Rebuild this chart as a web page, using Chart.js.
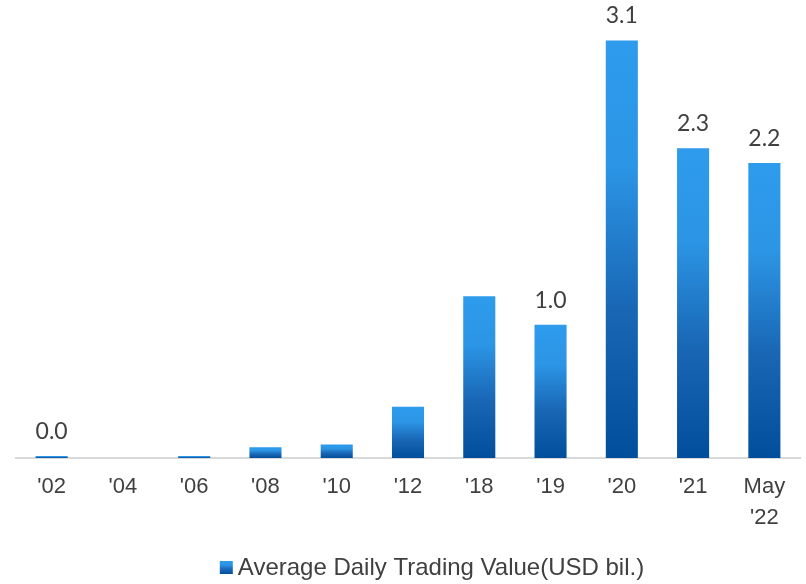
<!DOCTYPE html>
<html>
<head>
<meta charset="utf-8">
<script src="https://cdn.jsdelivr.net/npm/chart.js@4.4.0/dist/chart.umd.min.js"></script>
<style>
  html, body { margin: 0; padding: 0; background: #fff; }
  #wrap { width: 806px; height: 584px; }
</style>
</head>
<body>
<div id="wrap"><canvas id="tradingChart" width="806" height="584"></canvas></div>
<script>
// categories and values
const years = ["'02", "'04", "'06", "'08", "'10", "'12", "'18", "'19", "'20", "'21", ["May", "'22"]];
const tradingValue = [0.015, 0, 0.015, 0.08, 0.1, 0.38, 1.2, 0.99, 3.1, 2.3, 2.19];
// only some bars carry a value label
const valueLabels = ['0.0', null, null, null, null, null, null, '1.0', '3.1', '2.3', '2.2'];
const seriesName = 'Average Daily Trading Value(USD bil.)';

const TEXT = '#404040';

function barGradient(ctx, top, bottom) {
    const g = ctx.createLinearGradient(0, top, 0, bottom);
    g.addColorStop(0, '#2E9BEC');
    g.addColorStop(0.3, '#2C95E5');
    g.addColorStop(0.65, '#1866B4');
    g.addColorStop(1, '#004E9C');
    return g;
}

// draws the numbers above the bars
const valueLabelPlugin = {
    id: 'valueLabels',
    afterDatasetsDraw(chart) {
        const ctx = chart.ctx;
        const meta = chart.getDatasetMeta(0);
        ctx.save();
        ctx.font = '23px Lato';
        ctx.fillStyle = TEXT;
        ctx.textAlign = 'center';
        ctx.textBaseline = 'alphabetic';
        meta.data.forEach(function(bar, i) {
            if (valueLabels[i] !== null) {
                ctx.fillText(valueLabels[i], bar.x, bar.y - 17);
            }
        });
        ctx.restore();
    }
};

// legend drawn by hand so the box sits close to the text
const bottomLegend = {
    id: 'bottomLegend',
    afterDraw(chart) {
        const ctx = chart.ctx;
        const area = chart.chartArea;
        ctx.save();
        ctx.font = '24px "Liberation Sans"';
        const tw = ctx.measureText(seriesName).width;
        const box = 13, gap = 5;
        const groupW = box + gap + tw;
        const left = (area.left + area.right) / 2 + 24 - groupW / 2;
        const cy = chart.height - 17;
        ctx.fillStyle = barGradient(ctx, cy - 6, cy + 7);
        ctx.fillRect(left, cy - 6, box, box);
        ctx.fillStyle = TEXT;
        ctx.textBaseline = 'middle';
        ctx.textAlign = 'left';
        ctx.fillText(seriesName, left + box + gap, cy + 1);
        ctx.restore();
    }
};

const ctx = document.getElementById('tradingChart').getContext('2d');
new Chart(ctx, {
    type: 'bar',
    data: {
        labels: years,
        datasets: [{
            label: seriesName,
            data: tradingValue,
            backgroundColor: function(context) {
                const chart = context.chart;
                if (!chart.chartArea || context.parsed === undefined) return '#1F7AD0';
                const y = chart.scales.y;
                const top = y.getPixelForValue(context.parsed.y);
                const bottom = y.getPixelForValue(0);
                return barGradient(chart.ctx, Math.min(top, bottom - 1), bottom);
            },
            borderWidth: 0,
            categoryPercentage: 0.9,
            barPercentage: 0.5
        }]
    },
    options: {
        responsive: false,
        animation: false,
        layout: { padding: { left: 16, right: 6, top: 0, bottom: 42 } },
        plugins: {
            tooltip: { enabled: false },
            legend: { display: false }
        },
        scales: {
            x: {
                grid: { display: false },
                border: { display: true, color: '#d9d9d9', width: 2 },
                ticks: {
                    color: TEXT,
                    font: { family: 'Liberation Sans', size: 22, lineHeight: 1.4 },
                    maxRotation: 0,
                    autoSkip: false,
                    padding: 6
                },
                afterFit: function(scale) {
                    scale.height = 84;
                }
            },
            y: {
                display: false,
                min: 0,
                max: 3.4
            }
        }
    },
    plugins: [valueLabelPlugin, bottomLegend]
});
</script>
</body>
</html>
